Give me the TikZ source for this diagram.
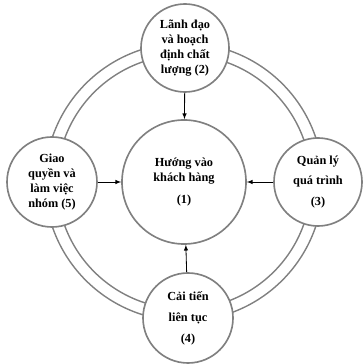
\documentclass[tikz,border=0pt]{standalone}
\usepackage{fontspec}
\setmainfont{Liberation Serif}
\usetikzlibrary{arrows}
\usetikzlibrary{positioning}
\begin{document}
\begin{tikzpicture}
      [x=0.03cm, y=0.03cm,
       every node/.style={align=center, font=\fontsize{10.5}{12.8}\selectfont\bfseries},
       ring/.style={draw=gray, line width=1.2pt},
       bubble/.style={circle, draw=gray, line width=1.4pt, fill=white, inner sep=0pt, minimum size=2.64cm}]
      \useasboundingbox (0,0) rectangle (363,364);
      \draw [ring] (184,182) circle (127);
      \draw [ring] (184,182) circle (139);

      \node (cust) [bubble, minimum size=3.72cm] at (184,182) {Hướng vào\\khách hàng\\[6pt](1)};
      \node (lead) [bubble] at (185,316) {Lãnh đạo\\và hoạch\\định chất\\lượng (2)};
      \node (team) [bubble, minimum size=2.7cm] at (52,182) {Giao\\quyền và\\làm việc\\nhóm (5)};
      \node (proc) [bubble] at (318,182) {Quản lý\\[5pt]quá trình\\[5pt](3)};
      \node (impr) [bubble, minimum size=2.7cm] at (188,46) {Cải tiến\\[5pt]liên tục\\[5pt](4)};

      \draw [-latex, line width=0.7pt] (lead) -- (cust);
      \draw [-latex, line width=0.7pt] (team) -- (cust);
      \draw [-latex, line width=0.7pt] (proc) -- (cust);
      \draw [-latex, line width=0.7pt] (impr) -- (cust);
    \end{tikzpicture}
\end{document}
